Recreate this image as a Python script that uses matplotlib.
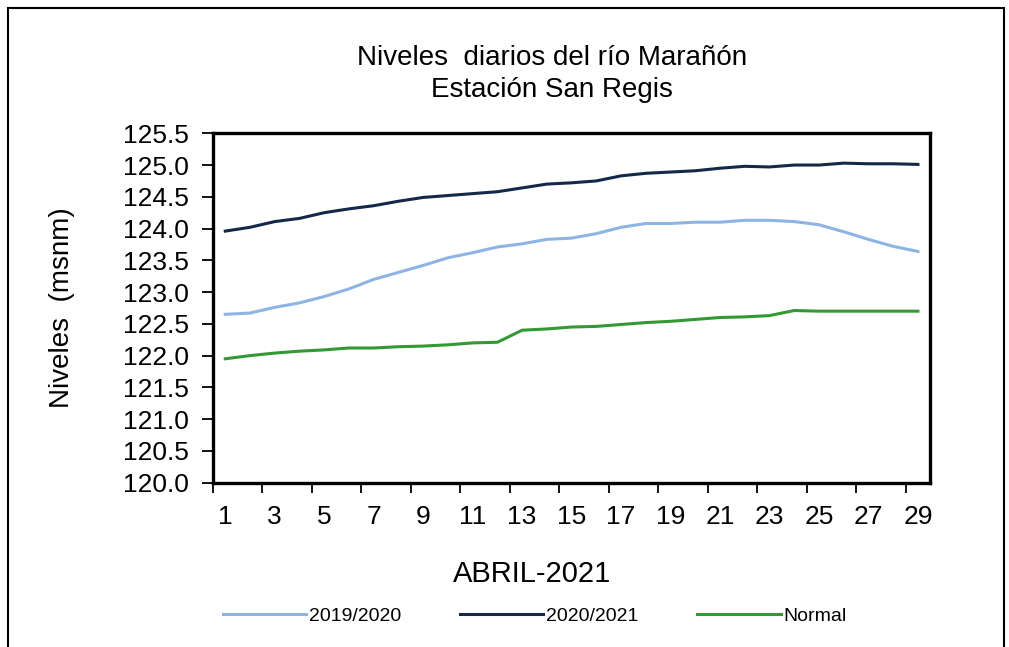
import numpy as np
import matplotlib
matplotlib.use('Agg')
import matplotlib.pyplot as plt
from matplotlib.patches import Rectangle

plt.rcParams['font.family'] = ['Liberation Sans', 'DejaVu Sans']

# Días de abril
dias = list(range(1, 30))

# Niveles (msnm)
niveles_2019_2020 = [122.65, 122.67, 122.76, 122.83, 122.93, 123.05, 123.20, 123.31, 123.42, 123.54,
                     123.62, 123.71, 123.76, 123.83, 123.85, 123.92, 124.02, 124.08, 124.08, 124.10,
                     124.10, 124.13, 124.13, 124.11, 124.06, 123.95, 123.83, 123.72, 123.64]
niveles_2020_2021 = [123.96, 124.02, 124.11, 124.16, 124.25, 124.31, 124.36, 124.43, 124.49, 124.52,
                     124.55, 124.58, 124.64, 124.70, 124.72, 124.75, 124.83, 124.87, 124.89, 124.91,
                     124.95, 124.98, 124.97, 125.00, 125.00, 125.03, 125.02, 125.02, 125.01]
niveles_normal = [121.95, 122.00, 122.04, 122.07, 122.09, 122.12, 122.12, 122.14, 122.15, 122.17,
                  122.20, 122.21, 122.40, 122.42, 122.45, 122.46, 122.49, 122.52, 122.54, 122.57,
                  122.60, 122.61, 122.63, 122.71, 122.70, 122.70, 122.70, 122.70, 122.70]

fig = plt.figure(figsize=(10.09, 6.47), dpi=100)
ax = fig.add_axes([0.211, 0.254, 0.711, 0.540])

ax.plot(dias, niveles_2019_2020, color='#8eb4e3', linewidth=2.2, label='2019/2020')
ax.plot(dias, niveles_2020_2021, color='#14284a', linewidth=2.2, label='2020/2021')
ax.plot(dias, niveles_normal, color='#339933', linewidth=2.2, label='Normal')

ax.set_xlim(0.5, 29.5)
ax.set_ylim(120.0, 125.5)
ax.set_yticks(np.arange(120.0, 125.51, 0.5))
ax.set_yticklabels([f'{v:.1f}' for v in np.arange(120.0, 125.51, 0.5)])

# marcas entre categorías, etiquetas cada 2 días
ax.set_xticks(np.arange(0.5, 29, 2))
ax.set_xticklabels([])
ax.set_xticks(dias[::2], minor=True)
ax.set_xticklabels([str(d) for d in dias[::2]], minor=True)
ax.tick_params(axis='x', which='major', direction='out', length=7.5, width=1.3)
ax.tick_params(axis='x', which='minor', length=0, pad=16, labelsize=19)
ax.tick_params(axis='y', direction='out', length=8, width=1.3, labelsize=19, pad=9)

for s in ax.spines.values():
    s.set_linewidth(2.4)
    s.set_color('black')

ax.set_xlabel('ABRIL-2021', fontsize=21)
ax.xaxis.set_label_coords(0.445, -0.222)
ax.set_ylabel('Niveles  (msnm)', fontsize=20)
ax.yaxis.set_label_coords(-0.192, 0.5)

fig.text(0.547, 0.886, 'Niveles  diarios del río Marañón\nEstación San Regis',
         ha='center', va='center', fontsize=20, linespacing=1.3)

fig.legend(loc='center', bbox_to_anchor=(0.53, 0.048), ncol=3, frameon=False,
           fontsize=14, handlelength=4.3, columnspacing=3.0, handletextpad=0.15)

# marco exterior
fig.patches.append(Rectangle((0.008, -0.02), 0.987, 1.008, transform=fig.transFigure,
                             fill=False, edgecolor='black', linewidth=1.5))

fig.savefig('out.png', dpi=100)
